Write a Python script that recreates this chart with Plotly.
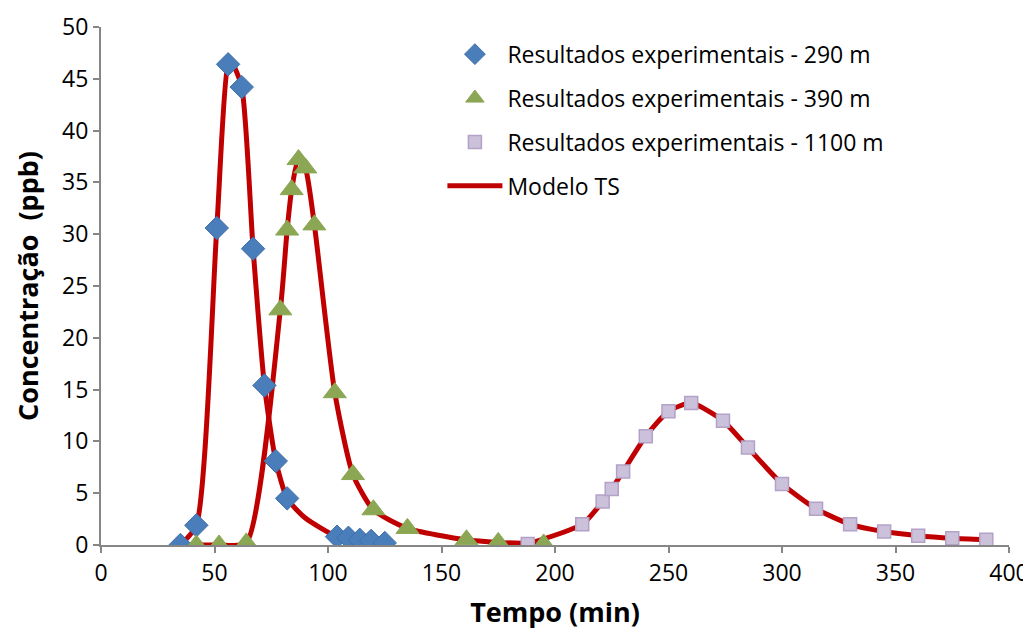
import plotly.graph_objects as go

# --- Data ---
t_290 = [35, 42, 51, 56, 62, 67, 72, 77, 82, 104, 109, 114, 119, 125]
c_290 = [0.0, 1.9, 30.6, 46.4, 44.2, 28.6, 15.4, 8.1, 4.5, 0.8, 0.7, 0.5, 0.4, 0.2]

t_390 = [42, 52, 64, 79, 82, 84, 87, 90, 94, 103, 111, 120, 135, 161, 175, 195]
c_390 = [0.0, 0.0, 0.2, 22.7, 30.4, 34.3, 37.2, 36.4, 30.9, 14.7, 6.8, 3.4, 1.6, 0.5, 0.25, 0.1]

t_1100 = [188, 212, 221, 225, 230, 240, 250, 260, 274, 285, 300, 315, 330, 345, 360, 375, 390]
c_1100 = [0.1, 2.0, 4.2, 5.4, 7.1, 10.5, 12.9, 13.7, 12.0, 9.4, 5.9, 3.5, 2.0, 1.3, 0.9, 0.65, 0.5]

# Model (Modelo TS) curves
mod_t_290 = [35, 42, 51, 56, 57.5, 62, 67, 72, 77, 82, 90, 104, 109, 114, 119, 125]
mod_c_290 = [0.0, 1.9, 30.6, 46.4, 46.6, 44.2, 28.6, 15.4, 8.1, 4.5, 2.6, 0.8, 0.7, 0.5, 0.4, 0.2]

mod_t_390 = [42, 52, 64, 79, 82, 84, 87, 90, 94, 103, 111, 120, 135, 161, 175, 195]
mod_c_390 = [0.0, 0.0, 0.2, 22.7, 30.4, 34.3, 37.2, 36.4, 30.9, 14.7, 6.8, 3.4, 1.6, 0.5, 0.25, 0.1]

mod_t_1100 = [188, 212, 221, 225, 230, 240, 250, 260, 274, 285, 300, 315, 330, 345, 360, 375, 390]
mod_c_1100 = [0.1, 2.0, 4.2, 5.4, 7.1, 10.5, 12.9, 13.7, 12.0, 9.4, 5.9, 3.5, 2.0, 1.3, 0.9, 0.65, 0.5]

x_ticks = [0, 50, 100, 150, 200, 250, 300, 350, 400]
y_ticks = [0, 5, 10, 15, 20, 25, 30, 35, 40, 45, 50]

FONT = "Open Sans"
RED = "#C00000"
GRAY = "#868686"

fig = go.Figure()

for i, (mt, mc) in enumerate([(mod_t_290, mod_c_290), (mod_t_390, mod_c_390), (mod_t_1100, mod_c_1100)]):
    fig.add_trace(go.Scatter(
        x=mt, y=mc, mode="lines", name="Modelo TS",
        line=dict(color=RED, width=5, shape="spline", smoothing=0.6),
        showlegend=(i == 0), legendgroup="m", legendrank=4,
        hoverinfo="skip",
    ))

fig.add_trace(go.Scatter(
    x=t_290, y=c_290, mode="markers", name="Resultados experimentais - 290 m",
    marker=dict(symbol="diamond", size=18, color="#4A7EBB", line=dict(color="#3F6EA8", width=1)),
    legendgroup="a", legendrank=1,
))
fig.add_trace(go.Scatter(
    x=t_390, y=c_390, mode="markers", name="Resultados experimentais - 390 m",
    marker=dict(symbol="triangle-up", size=20, color="#8BA753", line=dict(color="#8BA753", width=1)),
    legendgroup="b", legendrank=2,
))
fig.add_trace(go.Scatter(
    x=t_1100, y=c_1100, mode="markers", name="Resultados experimentais - 1100 m",
    marker=dict(symbol="square", size=13, color="#CCC1DA", line=dict(color="#B3A2C7", width=1.5)),
    legendgroup="c", legendrank=3,
))

fig.update_layout(
    width=1023, height=622,
    paper_bgcolor="white", plot_bgcolor="white",
    margin=dict(l=93, r=22, t=19, b=85),
    font=dict(family=FONT, size=23, color="black"),
    legend=dict(
        x=0.376, y=0.989, xanchor="left", yanchor="top",
        font=dict(family=FONT, size=23),
        itemwidth=55, tracegroupgap=11,
        bgcolor="rgba(0,0,0,0)",
    ),
    xaxis=dict(
        range=[0, 400], tickvals=x_ticks, showgrid=False, zeroline=False,
        showline=True, linecolor=GRAY, linewidth=2,
        ticks="outside", ticklen=6, tickcolor=GRAY, tickwidth=1.5,
        tickfont=dict(family=FONT, size=23), automargin=False,
        title=dict(text="<b>Tempo (min)</b>", font=dict(family=FONT, size=27), standoff=28),
    ),
    yaxis=dict(
        range=[0, 50], tickvals=y_ticks, showgrid=False, zeroline=False,
        showline=True, linecolor=GRAY, linewidth=2,
        ticks="outside", ticklen=6, tickcolor=GRAY, tickwidth=1.5,
        tickfont=dict(family=FONT, size=23), automargin=False,
        title=dict(text="<b>Concentração  (ppb)</b>", font=dict(family=FONT, size=27), standoff=16),
    ),
)

fig.write_html("out.html")
